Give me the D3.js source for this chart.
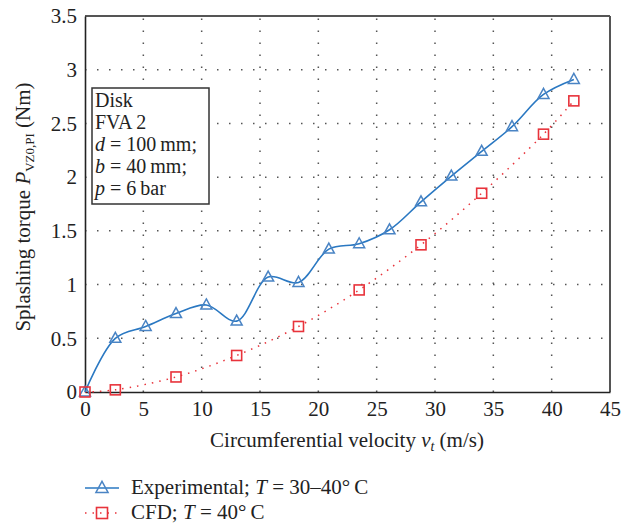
<!DOCTYPE html>
<html>
<head>
<meta charset="utf-8">
<script src="https://cdn.jsdelivr.net/npm/d3@7"></script>
<style>
  body { margin: 0; background: #fff; }
  svg text { font-family: "Liberation Serif", "DejaVu Serif", serif; fill: #222; }
</style>
</head>
<body>
<svg id="chart" width="630" height="526"></svg>
<script>
// data
var expX = [0, 2.6, 5.2, 7.8, 10.4, 13.0, 15.7, 18.3, 20.9, 23.5, 26.1, 28.8, 31.4, 34.0, 36.6, 39.3, 41.9];
var expY = [0, 0.50, 0.61, 0.73, 0.81, 0.66, 1.07, 1.02, 1.33, 1.38, 1.51, 1.77, 2.01, 2.24, 2.47, 2.77, 2.91];
var cfdX = [0, 2.6, 7.8, 13.0, 18.3, 23.5, 28.8, 34.0, 39.3, 41.9];
var cfdY = [0, 0.02, 0.14, 0.34, 0.61, 0.95, 1.37, 1.85, 2.40, 2.71];
var xTicks = [0, 5, 10, 15, 20, 25, 30, 35, 40, 45];
var yTicks = [0, 0.5, 1, 1.5, 2, 2.5, 3, 3.5];

var blue = "#2a78c2";
var blueMark = "#4a84c4";
var red = "#e8333b";

var svg = d3.select("#chart");
var pLeft = 85, pRight = 610, pTop = 16, pBottom = 392;

var x = d3.scaleLinear().domain([0, 45]).range([pLeft, pRight]);
var y = d3.scaleLinear().domain([0, 3.5]).range([pBottom, pTop]);

// dotted grid
var grid = svg.append("g");
grid.selectAll("line.v").data(xTicks.slice(1, -1)).enter().append("line")
  .attr("x1", d => x(d)).attr("x2", d => x(d))
  .attr("y1", pBottom).attr("y2", pTop)
  .attr("stroke", "#555").attr("stroke-width", 1.5)
  .attr("stroke-dasharray", "1.5,10.5");
grid.selectAll("line.h").data(yTicks.slice(1, -1)).enter().append("line")
  .attr("x1", pLeft).attr("x2", pRight)
  .attr("y1", d => y(d)).attr("y2", d => y(d))
  .attr("stroke", "#555").attr("stroke-width", 1.5)
  .attr("stroke-dasharray", "1.5,10.5");

// frame
svg.append("line").attr("x1", pLeft).attr("x2", pRight).attr("y1", pTop).attr("y2", pTop)
  .attr("stroke", "#555").attr("stroke-width", 2);
svg.append("line").attr("x1", pRight).attr("x2", pRight).attr("y1", pTop).attr("y2", pBottom)
  .attr("stroke", "#555").attr("stroke-width", 2);

// axes
var xAxis = svg.append("g").attr("transform", "translate(0," + pBottom + ")")
  .call(d3.axisBottom(x).tickValues(xTicks).tickSize(0).tickPadding(9).tickFormat(d3.format("d")));
var yAxis = svg.append("g").attr("transform", "translate(" + pLeft + ",0)")
  .call(d3.axisLeft(y).tickValues(yTicks).tickSize(0).tickPadding(8).tickFormat(d => d));
[xAxis, yAxis].forEach(function(a) {
  a.select(".domain").attr("stroke", "#222").attr("stroke-width", 1.6);
  a.selectAll("text").style("font-family", "Liberation Serif, serif").style("font-size", "21px").attr("fill", "#222");
});

// lines
var expData = expX.map((v, i) => [v, expY[i]]);
var cfdData = cfdX.map((v, i) => [v, cfdY[i]]);

var smooth = d3.line().x(d => x(d[0])).y(d => y(d[1])).curve(d3.curveCatmullRom.alpha(0.5));

svg.append("path").datum(cfdData).attr("d", smooth)
  .attr("fill", "none").attr("stroke", red).attr("stroke-width", 1.5)
  .attr("stroke-dasharray", "1.5,6");
svg.append("path").datum(expData).attr("d", smooth)
  .attr("fill", "none").attr("stroke", blue).attr("stroke-width", 1.6);

function triangle(g, cx, cy, s) {
  g.append("path")
    .attr("d", "M" + cx + "," + (cy - 6 * s) + "L" + (cx + 5.5 * s) + "," + (cy + 4 * s) + "L" + (cx - 5.5 * s) + "," + (cy + 4 * s) + "Z")
    .attr("fill", "none").attr("stroke", blueMark).attr("stroke-width", 1.5);
}
function square(g, cx, cy, s) {
  g.append("rect").attr("x", cx - 5 * s).attr("y", cy - 5 * s).attr("width", 10 * s).attr("height", 10 * s)
    .attr("fill", "none").attr("stroke", red).attr("stroke-width", 1.6);
}

var marks = svg.append("g");
expData.forEach(d => triangle(marks, x(d[0]), y(d[1]), 1));
cfdData.forEach(d => square(marks, x(d[0]), y(d[1]), 1));

// info box
svg.append("rect").attr("x", 92).attr("y", 88).attr("width", 117).attr("height", 116)
  .attr("fill", "#fff").attr("stroke", "#333").attr("stroke-width", 1.5);
var box = svg.append("g").style("font-size", "20px");
var bx = 95;
box.append("text").attr("x", bx).attr("y", 107).text("Disk");
box.append("text").attr("x", bx).attr("y", 129).text("FVA 2");
var t1 = box.append("text").attr("x", bx).attr("y", 151);
t1.append("tspan").style("font-style", "italic").text("d");
t1.append("tspan").text(" = 100\u2009mm;");
var t2 = box.append("text").attr("x", bx).attr("y", 173);
t2.append("tspan").style("font-style", "italic").text("b");
t2.append("tspan").text(" = 40\u2009mm;");
var t3 = box.append("text").attr("x", bx).attr("y", 195);
t3.append("tspan").style("font-style", "italic").text("p");
t3.append("tspan").text(" = 6\u2009bar");

// axis titles
var xt = svg.append("text").attr("x", 347).attr("y", 447).attr("text-anchor", "middle").style("font-size", "21px");
xt.append("tspan").text("Circumferential velocity ");
xt.append("tspan").style("font-style", "italic").text("v");
xt.append("tspan").style("font-style", "italic").style("font-size", "14px").attr("dy", 4).text("t");
xt.append("tspan").attr("dy", -4).text(" (m/s)");

var yt = svg.append("text").attr("transform", "translate(30,207) rotate(-90)")
  .attr("text-anchor", "middle").style("font-size", "21px");
yt.append("tspan").text("Splashing torque ");
yt.append("tspan").style("font-style", "italic").text("P");
yt.append("tspan").style("font-size", "13px").attr("dy", 4).text("VZ0,PI");
yt.append("tspan").attr("dy", -4).text(" (Nm)");

// legend
var lg = svg.append("g").style("font-size", "21px");
lg.append("line").attr("x1", 85).attr("x2", 119).attr("y1", 488).attr("y2", 488)
  .attr("stroke", blue).attr("stroke-width", 1.6);
triangle(lg, 102, 488, 1.1);
var l1 = lg.append("text").attr("x", 131).attr("y", 494);
l1.append("tspan").text("Experimental; ");
l1.append("tspan").style("font-style", "italic").text("T");
l1.append("tspan").text(" = 30\u201340\u00b0\u2009C");

lg.append("line").attr("x1", 85).attr("x2", 119).attr("y1", 513).attr("y2", 513)
  .attr("stroke", red).attr("stroke-width", 1.5).attr("stroke-dasharray", "1.5,6");
square(lg, 102, 513, 1.1);
var l2 = lg.append("text").attr("x", 131).attr("y", 519);
l2.append("tspan").text("CFD; ");
l2.append("tspan").style("font-style", "italic").text("T");
l2.append("tspan").text(" = 40\u00b0\u2009C");
</script>
</body>
</html>
